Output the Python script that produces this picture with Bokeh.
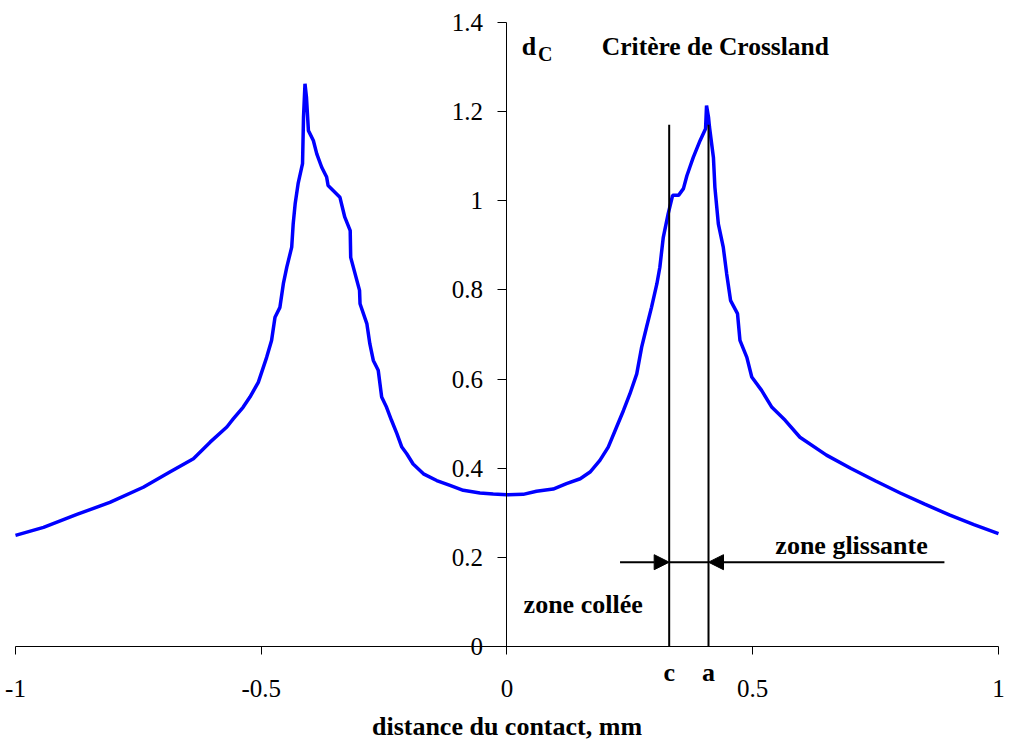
from bokeh.plotting import figure
from bokeh.models import LinearAxis, Label, Arrow, NormalHead, FixedTicker, Range1d
from bokeh.embed import file_html
from bokeh.resources import INLINE

# ---- data ----
x_mm = [-1.000, -0.943, -0.875, -0.808, -0.740, -0.686, -0.638, -0.604, -0.570, -0.557,
        -0.537, -0.523, -0.506, -0.489, -0.479, -0.472, -0.462, -0.455, -0.448, -0.438,
        -0.435, -0.431, -0.425, -0.416, -0.414, -0.411, -0.408, -0.404, -0.394, -0.387,
        -0.377, -0.367, -0.364, -0.340, -0.330, -0.319, -0.318, -0.309, -0.300, -0.299,
        -0.285, -0.279, -0.272, -0.262, -0.255, -0.245, -0.235, -0.224, -0.214, -0.204,
        -0.191, -0.170, -0.143, -0.116, -0.089, -0.055, -0.028, 0.000, 0.033, 0.060,
        0.094, 0.121, 0.149, 0.169, 0.189, 0.206, 0.223, 0.237, 0.250, 0.264,
        0.274, 0.284, 0.294, 0.305, 0.311, 0.318, 0.328, 0.337, 0.349, 0.359,
        0.366, 0.372, 0.379, 0.393, 0.404, 0.406, 0.410, 0.412, 0.420, 0.423,
        0.430, 0.440, 0.447, 0.455, 0.469, 0.474, 0.488, 0.498, 0.518, 0.539,
        0.566, 0.596, 0.650, 0.700, 0.750, 0.800, 0.850, 0.900, 0.950, 1.000]
d_c = [0.250, 0.268, 0.297, 0.324, 0.358, 0.392, 0.422, 0.459, 0.493, 0.511,
       0.537, 0.560, 0.593, 0.649, 0.687, 0.739, 0.761, 0.814, 0.851, 0.896,
       0.948, 0.993, 1.038, 1.083, 1.187, 1.262, 1.232, 1.157, 1.135, 1.105,
       1.075, 1.053, 1.034, 1.008, 0.963, 0.933, 0.873, 0.836, 0.799, 0.769,
       0.724, 0.679, 0.642, 0.620, 0.560, 0.537, 0.508, 0.478, 0.448, 0.433,
       0.410, 0.388, 0.373, 0.362, 0.351, 0.345, 0.343, 0.341, 0.342, 0.349,
       0.354, 0.366, 0.377, 0.392, 0.418, 0.448, 0.493, 0.530, 0.567, 0.612,
       0.672, 0.717, 0.761, 0.814, 0.851, 0.918, 0.971, 1.012, 1.012, 1.027,
       1.056, 1.075, 1.097, 1.135, 1.161, 1.213, 1.187, 1.165, 1.097, 1.030,
       0.948, 0.896, 0.836, 0.776, 0.747, 0.687, 0.649, 0.605, 0.575, 0.537,
       0.508, 0.470, 0.430, 0.400, 0.372, 0.345, 0.320, 0.296, 0.274, 0.254]

x_ticks = [-1, -0.5, 0, 0.5, 1]
x_tick_labels = ["-1", "-0.5", "0", "0.5", "1"]
y_ticks = [0, 0.2, 0.4, 0.6, 0.8, 1.0, 1.2, 1.4]
y_tick_labels = ["0", "0.2", "0.4", "0.6", "0.8", "1", "1.2", "1.4"]

zone_names = ["c", "a"]          # contact limits
zone_x = [0.33, 0.41]            # c = stick zone half width, a = contact half width
zone_top = [1.17, 1.17]
arrow_level = 0.19
arrow_from = [0.23, 0.89]        # arrow tails (left -> c, right -> a)

title_text = "Critère de Crossland"
y_name = "d"
y_sub = "C"
x_title = "distance du contact, mm"
stick_text = "zone collée"
slip_text = "zone glissante"

SERIF = "Liberation Serif"

# the frame fills the whole canvas; axes are pinned at x = 0 and y = 0
p = figure(width=1009, height=742, output_backend="svg", toolbar_location=None,
           x_range=Range1d(-1.0305, 1.0224), y_range=Range1d(-0.214, 1.4486),
           x_axis_location=None, y_axis_location=None,
           min_border_left=0, min_border_right=0, min_border_top=0, min_border_bottom=0)
p.outline_line_color = None
p.xgrid.visible = False
p.ygrid.visible = False
p.background_fill_color = "white"
p.border_fill_color = "white"

xaxis = LinearAxis(ticker=FixedTicker(ticks=x_ticks), axis_label=x_title, fixed_location=0,
                   bounds=(x_ticks[0], x_ticks[-1]),
                   major_label_overrides=dict(zip(x_ticks, x_tick_labels)))
xaxis.major_tick_out = 8
xaxis.major_tick_in = 0
xaxis.minor_tick_out = 0
xaxis.minor_tick_in = 0
xaxis.major_label_standoff = 25
xaxis.axis_label_standoff = 12
xaxis.major_label_text_font = SERIF
xaxis.major_label_text_font_size = "25px"
xaxis.major_label_text_color = "black"
xaxis.axis_label_text_font = SERIF
xaxis.axis_label_text_font_size = "26px"
xaxis.axis_label_text_font_style = "bold"
xaxis.axis_label_text_color = "black"
xaxis.axis_line_color = "black"
xaxis.major_tick_line_color = "black"
p.add_layout(xaxis, "below")

yaxis = LinearAxis(ticker=FixedTicker(ticks=y_ticks), fixed_location=0,
                   bounds=(y_ticks[0], y_ticks[-1]),
                   major_label_overrides=dict(zip(y_ticks, y_tick_labels)))
yaxis.major_tick_out = 9
yaxis.major_tick_in = 0
yaxis.minor_tick_out = 0
yaxis.minor_tick_in = 0
yaxis.major_label_standoff = 15
yaxis.major_label_text_font = SERIF
yaxis.major_label_text_font_size = "25px"
yaxis.major_label_text_color = "black"
yaxis.axis_line_color = "black"
yaxis.major_tick_line_color = "black"
p.add_layout(yaxis, "left")

# curve
p.line(x_mm, d_c, line_color="#0000FF", line_width=3.5)

# c and a vertical markers with the zone arrows
p.segment(x0=zone_x, y0=[0, 0], x1=zone_x, y1=zone_top, line_color="black", line_width=2)
p.segment(x0=[zone_x[0]], y0=[arrow_level], x1=[zone_x[1]], y1=[arrow_level],
          line_color="black", line_width=2)
for tail, tip in zip(arrow_from, zone_x):
    p.add_layout(Arrow(end=NormalHead(size=15, fill_color="black", line_color="black", line_width=1),
                       x_start=tail, y_start=arrow_level, x_end=tip, y_end=arrow_level,
                       line_color="black", line_width=2))

def lab(x, y, text, size="26px", align="left", bold=True):
    p.add_layout(Label(x=x, y=y, text=text, text_font=SERIF, text_font_size=size,
                       text_font_style="bold" if bold else "normal", text_color="black",
                       text_align=align, text_baseline="alphabetic"))

lab(0.193, 1.346, title_text, size="25.5px")
lab(0.030, 1.346, y_name)
lab(0.063, 1.328, y_sub, size="20px")
lab(0.701, 0.227, slip_text, align="center")
lab(0.155, 0.096, stick_text, align="center")
for name, xv in zip(zone_names, zone_x):
    lab(xv, -0.057, name, align="center")

open("out.html", "w").write(file_html(p, INLINE))
